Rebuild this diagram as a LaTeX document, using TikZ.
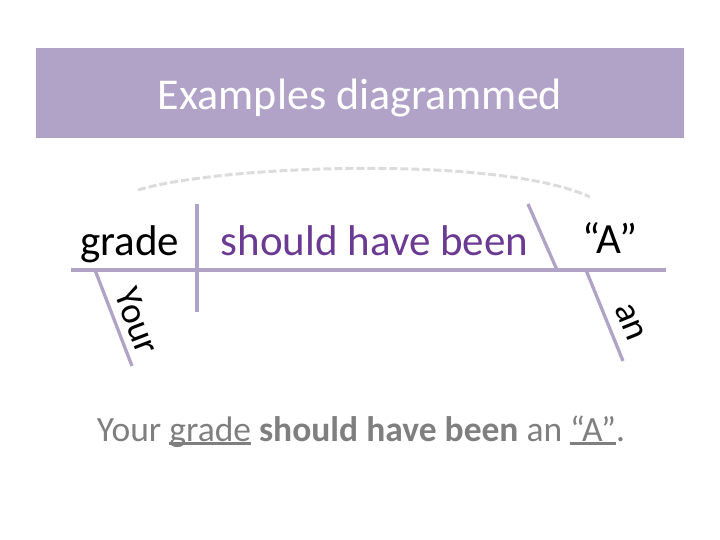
\documentclass[tikz,border=0pt]{standalone}
\usepackage{fontspec}
\setmainfont{Carlito}
\definecolor{barlav}{HTML}{B1A2C8}
\definecolor{linelav}{HTML}{B0A3C6}
\definecolor{verbpurple}{HTML}{6B3A93}
\definecolor{sentgray}{HTML}{7F7F7F}
\definecolor{arcgray}{HTML}{DCDCDC}
\newcommand\myul[1]{\setbox0\hbox{#1}\rlap{\rule[-0.1em]{\wd0}{0.06em}}\box0\relax}
\tikzset{
  diagline/.style={draw=linelav, line width=3.3pt},
  word/.style={inner sep=0pt, anchor=base, font=\fontsize{43}{50}\selectfont},
  modword/.style={inner sep=0pt, anchor=center, font=\fontsize{37}{44}\selectfont},
}
\begin{document}
\begin{tikzpicture}[x=1pt,y=-1pt]
\useasboundingbox (0,0) rectangle (720,540);
% title bar
\fill[barlav] (36,48) rectangle (684,138);
\node[inner sep=0pt, anchor=base, text=white, font=\fontsize{44}{52}\selectfont] (title) at (360,110) {Examples diagrammed};
% dashed arc
\coordinate (arcL) at (138,190);
\coordinate (arcR) at (590,197);
\draw[arcgray, line width=3pt, dash pattern=on 8pt off 3pt] (arcL) .. controls (220,165) and (500,155) .. (arcR);
% main lines
\coordinate (baseL) at (71,270);
\coordinate (baseR) at (666,270);
\coordinate (divT) at (197,204);
\coordinate (divB) at (197,312);
\coordinate (compT) at (528,204);
\coordinate (compB) at (557,270);
\coordinate (yourT) at (95,270);
\coordinate (yourB) at (132,366);
\coordinate (anT) at (586,270);
\coordinate (anB) at (623,361);
\draw[diagline] (baseL) -- (baseR);
\draw[diagline] (divT) -- (divB);
\draw[diagline] (compT) -- (compB);
\draw[diagline] (yourT) -- (yourB);
\draw[diagline] (anT) -- (anB);
% words
\node[word] (grade) at (129.5,255) {grade};
\node[word, text=verbpurple] (verb) at (374.5,255) {should have been};
\node[word] (compl) at (610,254) {“A”};
\node[modword, rotate=-69] (your) at (137,321) {Your};
\node[modword, rotate=-68] (an) at (630,322) {an};
% sentence
\node[inner sep=0pt, anchor=base, text=sentgray, font=\fontsize{35.5}{42}\selectfont] (sentence) at (361,441)
  {Your \myul{grade} \textbf{should have been} an \myul{“A”}.};
\end{tikzpicture}
\end{document}
